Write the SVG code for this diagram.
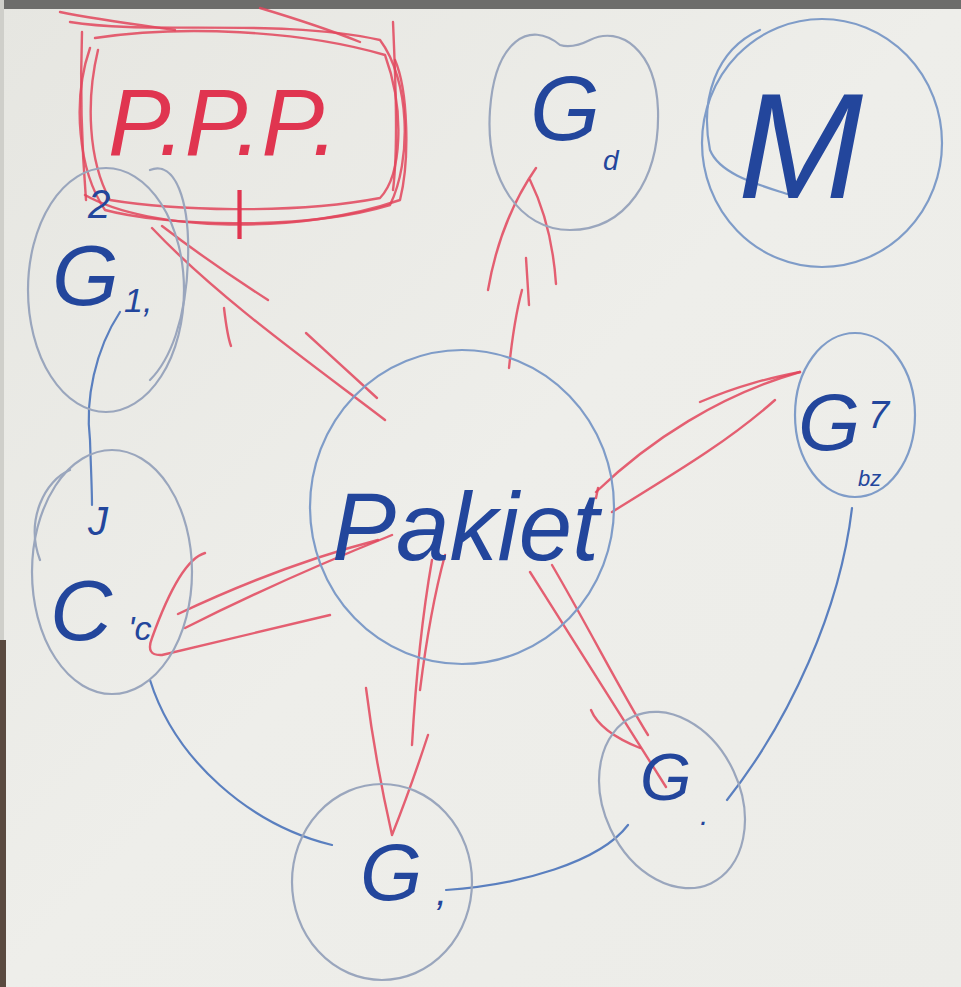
<svg xmlns="http://www.w3.org/2000/svg" width="961" height="987" viewBox="0 0 961 987">
<defs>
<linearGradient id="paper" x1="0" y1="0" x2="1" y2="1">
<stop offset="0" stop-color="#e6e6e1"/>
<stop offset="0.5" stop-color="#eeeeea"/>
<stop offset="1" stop-color="#ecece8"/>
</linearGradient>
</defs>
<style>
.ring{fill:none;stroke:#9aa6bd;stroke-width:2.2;stroke-linecap:round}
.ringb{fill:none;stroke:#7f9cc8;stroke-width:2.2;stroke-linecap:round}
.ink{font-family:"Liberation Sans",Arial,sans-serif;fill:#23469c;font-style:italic}
.red{fill:none;stroke:#e2455c;stroke-width:2.4;stroke-linecap:round;stroke-linejoin:round;opacity:0.85}
.blue{fill:none;stroke:#5a7fbf;stroke-width:2.2;stroke-linecap:round}
.redtxt{font-family:"Liberation Sans",Arial,sans-serif;fill:#e03550;font-style:italic}
</style>
<rect width="961" height="987" fill="url(#paper)"/>
<rect x="0" y="0" width="961" height="9" fill="#6d6d6b"/>
<rect x="0" y="0" width="4" height="640" fill="#cfcfca"/>
<rect x="0" y="640" width="6" height="347" fill="#5a4a40"/>

<g id="connectors">
<path class="blue" d="M120,312 C95,350 85,400 90,440 C91,470 92,490 92,505"/>
<path class="blue" d="M150,680 C175,760 250,825 332,845"/>
<path class="blue" d="M446,890 C520,885 600,862 628,825"/>
<path class="blue" d="M727,800 C790,720 840,610 852,508"/>
<!-- center to PPP -->
<path class="red" d="M152,228 C220,300 320,370 385,420"/>
<path class="red" d="M162,226 C200,255 240,282 268,300"/>
<path class="red" d="M306,333 C330,355 355,378 377,398"/>
<path class="red" d="M224,308 C226,325 228,338 231,346"/>
<!-- center to top G -->
<path class="red" d="M509,368 Q514,320 522,290"/>
<path class="red" d="M488,290 Q500,220 536,168"/>
<path class="red" d="M530,180 Q552,225 556,284"/>
<path class="red" d="M526,258 L529,305"/>
<!-- center to right G -->
<path class="red" d="M596,492 C650,440 720,395 800,372"/>
<path class="red" d="M612,512 C680,470 730,440 775,400"/>
<path class="red" d="M700,402 C740,385 770,378 800,372"/>
<path class="red" d="M598,488 L596,498"/>
<!-- center to left C -->
<path class="red" d="M205,553 Q180,560 152,638 Q145,656 162,655 L330,615"/>
<path class="red" d="M185,628 C260,590 330,560 392,535"/>
<path class="red" d="M178,614 C250,580 320,555 378,540"/>
<!-- center to bottom G -->
<path class="red" d="M366,688 Q375,760 392,835 Q410,790 428,735"/>
<path class="red" d="M412,745 Q418,640 432,560"/>
<path class="red" d="M420,690 Q430,610 445,555"/>
<!-- center to bottom-right G -->
<path class="red" d="M530,572 C580,650 630,730 666,787"/>
<path class="red" d="M552,565 C590,630 620,690 648,735"/>
<path class="red" d="M591,710 Q600,732 640,748"/>
</g>

<g id="ppp">
<path class="red" d="M82,32 C80,90 82,150 86,200"/>
<path class="red" d="M393,22 C396,90 398,150 393,190"/>
<path class="red" d="M70,22 C150,35 280,18 380,40 C410,80 412,160 390,205 C300,232 160,225 105,210 C78,170 72,100 90,48"/>
<path class="red" d="M95,38 C180,25 300,30 385,55 C405,110 402,175 380,198 C290,215 170,210 110,200 C88,160 86,100 98,50"/>
<path class="red" d="M85,195 C150,232 300,235 400,200 C410,160 408,90 395,60"/>
<path class="red" d="M60,12 C100,20 140,25 175,30"/>
<path class="red" d="M260,8 C300,20 330,30 360,42"/>
<text class="redtxt" x="108" y="155" font-size="94">P.P.P.</text>
<text class="redtxt" x="232" y="228" font-size="52">|</text>
</g>

<g id="node-g-topleft">
<ellipse class="ring" cx="106" cy="290" rx="78" ry="122"/>
<path class="ring" d="M150,170 C175,160 190,200 188,260 C186,320 170,360 150,380"/>
<text class="ink" x="88" y="218" font-size="40">2</text>
<text class="ink" x="52" y="305" font-size="86">G</text>
<text class="ink" x="124" y="312" font-size="34">1,</text>
</g>

<g id="node-c-left">
<ellipse class="ring" cx="112" cy="572" rx="80" ry="122"/>
<path class="ring" d="M40,560 C25,520 45,480 70,470"/>
<text class="ink" x="88" y="535" font-size="40">J</text>
<text class="ink" x="50" y="640" font-size="86">C</text>
<text class="ink" x="128" y="640" font-size="34">'c</text>
</g>

<g id="node-g-top">
<path class="ring" d="M560,45 C530,20 495,40 490,110 C485,180 520,230 570,230 C625,230 660,180 658,110 C656,50 620,25 590,40 C580,45 570,48 560,45 Z"/>
<text class="ink" x="530" y="140" font-size="90">G</text>
<text class="ink" x="603" y="170" font-size="28">d</text>
</g>

<g id="node-m">
<ellipse class="ringb" cx="822" cy="143" rx="120" ry="124"/>
<path class="ringb" d="M760,30 C715,50 700,100 710,150 C720,175 760,185 790,195"/>
<text class="ink" x="738" y="198" font-size="150">M</text>
</g>

<g id="node-pakiet">
<ellipse class="ringb" cx="462" cy="507" rx="152" ry="157"/>
<text class="ink" x="332" y="560" font-size="96">Pakiet</text>
</g>

<g id="node-g-right">
<ellipse class="ringb" cx="855" cy="415" rx="60" ry="82"/>
<text class="ink" x="798" y="450" font-size="80">G</text>
<text class="ink" x="868" y="428" font-size="38">7</text>
<text class="ink" x="858" y="486" font-size="22">bz</text>
</g>

<g id="node-g-bottomright">
<ellipse class="ring" cx="672" cy="800" rx="68" ry="92" transform="rotate(-25 672 800)"/>
<text class="ink" x="640" y="800" font-size="66">G</text>
<text class="ink" x="700" y="825" font-size="30">.</text>
</g>

<g id="node-g-bottom">
<ellipse class="ring" cx="382" cy="882" rx="90" ry="98"/>
<text class="ink" x="360" y="900" font-size="80">G</text>
<text class="ink" x="436" y="905" font-size="40">,</text>
</g>
</svg>
